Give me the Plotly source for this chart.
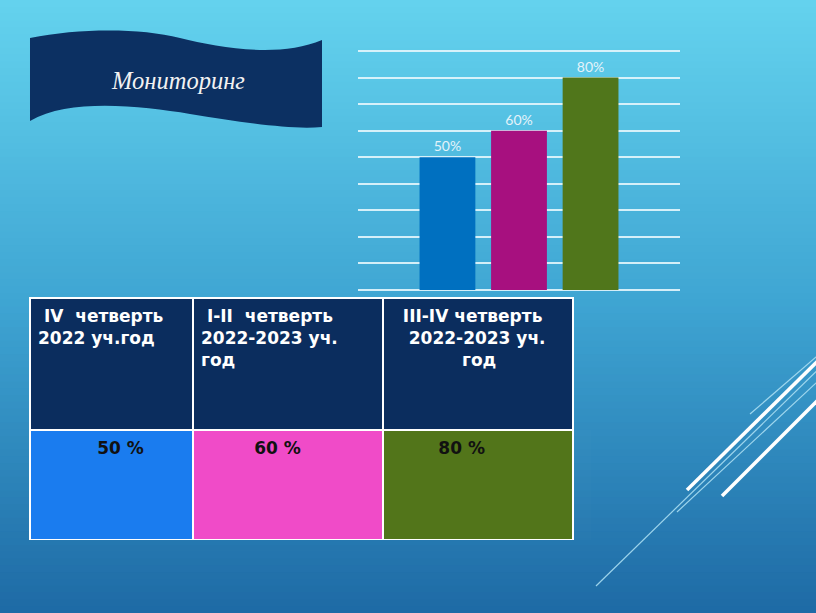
import plotly.graph_objects as go

# ---------------- data ----------------
categories = ["IV четверть 2022", "I-II четверть 2022-2023", "III-IV четверть 2022-2023"]
values = [50, 60, 80]
bar_colors = ["#0070c0", "#a7107f", "#50761b"]

header_lines = [
    ["IV\u00a0\u00a0четверть", "2022 уч.год"],
    ["I-II\u00a0\u00a0четверть", "2022-2023 уч.", "год"],
    ["III-IV четверть", "2022-2023 уч.", "год"],
]
cell_labels = ["50 %", "60 %", "80 %"]
cell_colors = ["#1a7cef", "#f04bc8", "#52751a"]

title_text = "Мониторинг"

W, H = 816, 613
NB = "\u00a0"


def px(x):
    return x / W


def py(y):
    return 1 - y / H


# per-line left indents (in non-breaking spaces) to mimic the slide's text placement
header_indent = [[1, 0], [1, 0, 0], [2, 3, 12]]
cell_indent = [10, 9, 8]

header_values = []
for lines, ind in zip(header_lines, header_indent):
    header_values.append("<b>" + "<br>".join(NB * n + s for s, n in zip(lines, ind)) + "</b>")
cell_values = [["<b>" + NB * n + c + "</b>"] for c, n in zip(cell_labels, cell_indent)]

fig = go.Figure()

# ---------------- bar chart ----------------
fig.add_trace(go.Bar(
    x=categories,
    y=values,
    marker=dict(color=bar_colors, line=dict(width=0)),
    width=0.78,
    text=[f"{v}%" for v in values],
    textposition="outside",
    textfont=dict(family="Lato", size=14, color="#e4f3fa"),
    cliponaxis=False,
    hoverinfo="skip",
))

# ---------------- table ----------------
fig.add_trace(go.Table(
    domain=dict(x=[px(30), px(573)], y=[py(541), py(298)]),
    columnwidth=[163, 190, 190],
    header=dict(
        values=header_values,
        fill=dict(color="#0b2d5e"),
        font=dict(family="DejaVu Sans", size=17, color="white"),
        align="left",
        height=132,
        line=dict(color="white", width=2),
    ),
    cells=dict(
        values=cell_values,
        fill=dict(color=[[c] for c in cell_colors]),
        font=dict(family="DejaVu Sans", size=17, color="#111111"),
        align="left",
        height=110,
        line=dict(color="white", width=2),
    ),
))

shapes = []

# ---------------- background gradient ----------------
stops = [(0.0, (100, 211, 238)), (0.5, (62, 164, 210)), (1.0, (30, 106, 165))]


def grad(t):
    for (t0, c0), (t1, c1) in zip(stops[:-1], stops[1:]):
        if t <= t1:
            f = (t - t0) / (t1 - t0)
            return tuple(int(round(a + (b - a) * f)) for a, b in zip(c0, c1))
    return stops[-1][1]


nb = 90
for i in range(nb):
    y0 = H * i / nb
    y1 = H * (i + 1) / nb + 1
    r, g, b = grad((i + 0.5) / nb)
    shapes.append(dict(type="rect", xref="paper", yref="paper",
                       x0=0, x1=1, y0=py(y1), y1=py(y0),
                       fillcolor=f"rgb({r},{g},{b})", line=dict(width=0),
                       layer="below"))

# ---------------- banner ----------------
def P(x, y):
    return f"{px(x):.5f},{py(y):.5f}"


banner_path = (
    f"M {P(30,38)} C {P(80,28)} {P(140,28)} {P(180,38)} "
    f"C {P(220,48)} {P(280,58)} {P(322,40)} "
    f"L {P(322,127)} "
    f"C {P(290,130)} {P(240,122)} {P(190,114)} "
    f"C {P(140,106)} {P(70,98)} {P(30,121)} Z"
)
shapes.append(dict(type="path", xref="paper", yref="paper", path=banner_path,
                   fillcolor="#0c3062", line=dict(width=0), layer="below"))

# ---------------- decorative lines ----------------
deco = [
    # (x0, y0, x1, y1, width, color)
    (596, 586, 830, 358, 1.2, "rgba(170,222,242,0.9)"),
    (677, 512, 830, 370, 1.2, "rgba(170,222,242,0.9)"),
    (750, 414, 830, 345, 1.2, "rgba(170,222,242,0.9)"),
    (687, 490, 830, 349, 3.5, "white"),
    (722, 496, 830, 388, 3.5, "white"),
]
for x0, y0, x1, y1, w, c in deco:
    shapes.append(dict(type="line", xref="paper", yref="paper",
                       x0=px(x0), y0=py(y0), x1=px(x1), y1=py(y1),
                       line=dict(color=c, width=w), layer="below"))

fig.update_layout(
    width=W, height=H,
    margin=dict(l=0, r=0, t=0, b=0),
    paper_bgcolor="rgb(62,164,210)",
    plot_bgcolor="rgba(0,0,0,0)",
    showlegend=False,
    shapes=shapes,
    xaxis=dict(domain=[px(358), px(680)], type="category",
               range=[-1.25, 3.25], showticklabels=False, showgrid=False,
               zeroline=False, showline=False, ticks=""),
    yaxis=dict(domain=[py(291), py(50)], range=[-0.4, 90.4], dtick=10, tick0=0,
               showticklabels=False, showgrid=True,
               gridcolor="rgba(228,246,252,0.9)", gridwidth=1.5,
               zeroline=False, showline=False, ticks=""),
    annotations=[dict(
        text=title_text, xref="paper", yref="paper",
        x=px(178), y=py(80), xanchor="center", yanchor="middle",
        showarrow=False,
        font=dict(family="Liberation Serif", size=24.5, color="#f2f2f2", style="italic"),
    )],
)

fig.write_html("out.html", config={"displayModeBar": False},
               post_script="document.body.style.margin='0';")
